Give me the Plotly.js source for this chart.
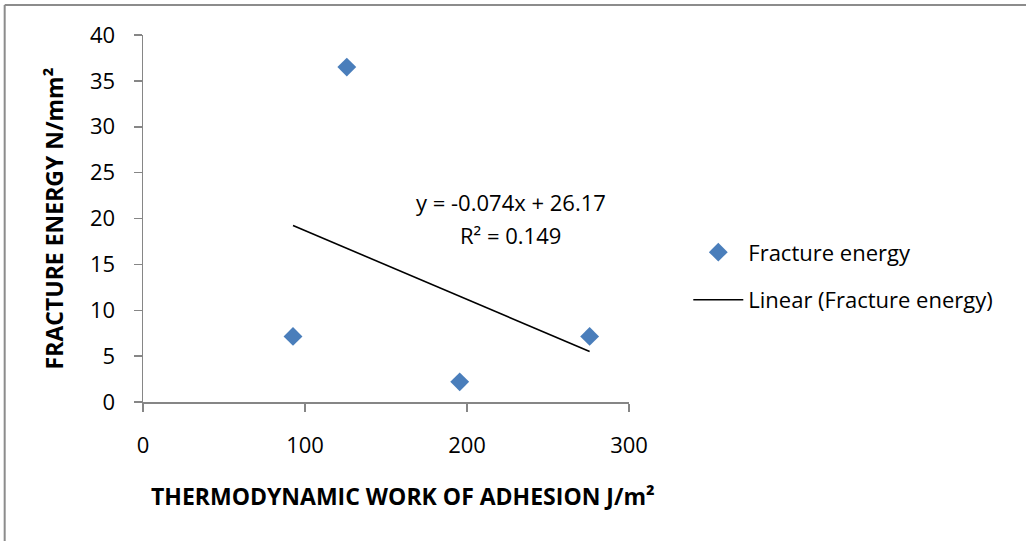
<!DOCTYPE html>
<html>
<head>
<meta charset="utf-8">
<script src="https://cdn.plot.ly/plotly-3.0.1.min.js"></script>
<style>
  html, body { margin: 0; padding: 0; background: #fff; }
  #chart { width: 1026px; height: 541px; }
</style>
</head>
<body>
<div id="chart"></div>
<script>
// Data
var workOfAdhesion = [92.6, 125.8, 195.5, 275.7];   // J/m²
var fractureEnergy = [7.15, 36.5, 2.2, 7.15];        // N/mm²
var seriesName = "Fracture energy";
var trendName = "Linear (Fracture energy)";
var equationText = "y = -0.074x + 26.17";
var r2Text = "R² = 0.149";
var xAxisTitle = "THERMODYNAMIC WORK OF ADHESION J/m²";
var yAxisTitle = "FRACTURE ENERGY N/mm²";
var xTickValues = [0, 100, 200, 300];
var yTickValues = [0, 5, 10, 15, 20, 25, 30, 35, 40];

// Least-squares linear trendline computed from the data
function linearFit(xs, ys) {
  var n = xs.length, mx = 0, my = 0;
  for (var i = 0; i < n; i++) { mx += xs[i]; my += ys[i]; }
  mx /= n; my /= n;
  var sxy = 0, sxx = 0;
  for (var j = 0; j < n; j++) { sxy += (xs[j] - mx) * (ys[j] - my); sxx += (xs[j] - mx) * (xs[j] - mx); }
  var slope = sxy / sxx;
  return { slope: slope, intercept: my - slope * mx };
}
var fit = linearFit(workOfAdhesion, fractureEnergy);
var xMin = Math.min.apply(null, workOfAdhesion);
var xMax = Math.max.apply(null, workOfAdhesion);
var trendX = [xMin, xMax];
var trendY = trendX.map(function (x) { return fit.slope * x + fit.intercept; });

var FONT = '"Open Sans", "Liberation Sans", sans-serif';
var AXIS_COLOR = '#868686';

var traces = [
  {
    x: workOfAdhesion, y: fractureEnergy,
    type: 'scatter', mode: 'markers', name: seriesName,
    marker: { symbol: 'diamond', size: 14.5, color: '#4A7EBB', line: { width: 0 } },
    legendgroup: 'a', cliponaxis: false
  },
  {
    x: trendX, y: trendY,
    type: 'scatter', mode: 'lines', name: trendName,
    line: { color: '#000000', width: 1.6 },
    legendgroup: 'b'
  }
];

var layout = {
  width: 1026, height: 541,
  margin: { l: 143, r: 397, t: 35, b: 139, pad: 0 },
  paper_bgcolor: '#ffffff', plot_bgcolor: '#ffffff',
  font: { family: FONT, size: 22, color: '#000000' },
  showlegend: true,
  legend: {
    x: 1.122, y: 0.465, xanchor: 'left', yanchor: 'top',
    font: { family: FONT, size: 22, color: '#000000' },
    itemwidth: 50, traceorder: 'grouped', tracegroupgap: 16,
    bgcolor: 'rgba(0,0,0,0)', borderwidth: 0
  },
  xaxis: {
    range: [0, 300], tickmode: 'array', tickvals: xTickValues,
    showgrid: false, zeroline: false,
    showline: true, linecolor: AXIS_COLOR, linewidth: 1.5,
    ticks: 'outside', ticklen: 8, tickwidth: 1.5, tickcolor: AXIS_COLOR,
    ticklabelstandoff: 15,
    tickfont: { family: FONT, size: 22, color: '#000000' },
    fixedrange: true
  },
  yaxis: {
    range: [0, 40], tickmode: 'array', tickvals: yTickValues,
    showgrid: false, zeroline: false,
    showline: true, linecolor: AXIS_COLOR, linewidth: 1.5,
    ticks: 'outside', ticklen: 8, tickwidth: 1.5, tickcolor: AXIS_COLOR,
    ticklabelstandoff: 14,
    tickfont: { family: FONT, size: 22, color: '#000000' },
    title: { text: '<b>' + yAxisTitle + '</b>', font: { family: FONT, size: 23, color: '#000000' }, standoff: 20 },
    fixedrange: true
  },
  annotations: [
    { xref: 'x', yref: 'y', x: 227, y: 21.8, text: equationText, showarrow: false,
      xanchor: 'center', yanchor: 'middle', font: { family: FONT, size: 22, color: '#000000' } },
    { xref: 'x', yref: 'y', x: 227, y: 18.2, text: r2Text, showarrow: false,
      xanchor: 'center', yanchor: 'middle', font: { family: FONT, size: 22, color: '#000000' } },
    { xref: 'paper', yref: 'paper', x: 0.536, y: -0.255, text: '<b>' + xAxisTitle + '</b>', showarrow: false,
      xanchor: 'center', yanchor: 'middle', font: { family: FONT, size: 23, color: '#000000' } }
  ],
  shapes: [
    { type: 'line', xref: 'paper', yref: 'paper', x0: -0.2846, x1: -0.2846, y0: 1.0817, y1: -0.38,
      line: { color: '#8c8c8c', width: 2 } },
    { type: 'line', xref: 'paper', yref: 'paper', x0: -0.2846, x1: 1.82, y0: 1.0817, y1: 1.0817,
      line: { color: '#8c8c8c', width: 2 } }
  ]
};

Plotly.newPlot('chart', traces, layout, { displayModeBar: false, staticPlot: true });
</script>
</body>
</html>
